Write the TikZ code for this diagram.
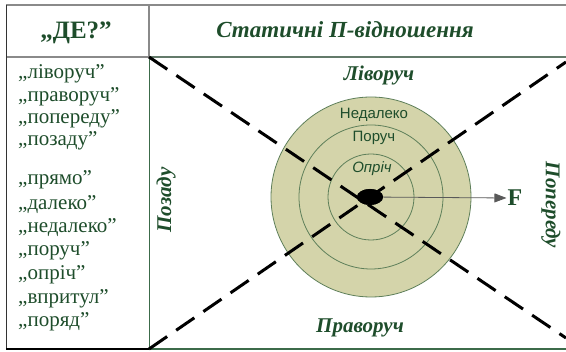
\documentclass[tikz,border=0pt]{standalone}
\usepackage{fontspec}
\setmainfont{Liberation Serif}
\newfontfamily\arialfont{Liberation Sans}
\usepackage{xcolor}
\usetikzlibrary{arrows.meta,shapes.geometric}
\definecolor{txtgreen}{HTML}{1E4D2B}
\definecolor{khaki}{HTML}{D4D4AA}
\definecolor{ringgreen}{HTML}{5E7F5A}
\definecolor{rulegray}{HTML}{8A8A8A}
\definecolor{rulegreen}{HTML}{3C6B4A}
\tikzset{
  hdr/.style={font=\fontsize{24}{26}\selectfont\bfseries,text=txtgreen},
  item/.style={anchor=west,font=\fontsize{21}{23}\selectfont,text=txtgreen,inner sep=0pt},
  side/.style={font=\fontsize{21}{23}\selectfont\bfseries\itshape,text=txtgreen},
  ring/.style={circle,draw=ringgreen,fill=khaki,line width=0.8pt,inner sep=0pt},
  ringlbl/.style={font=\arialfont\fontsize{15}{17}\selectfont,text=txtgreen},
  cut/.style={dash pattern=on 22pt off 11pt,line width=3pt},
  arr/.style={-{Triangle[length=12pt,width=9pt]},draw=gray!70!black,line width=0.8pt},
}

\begin{document}
\begin{tikzpicture}[x=1pt,y=-1pt]
\useasboundingbox (0,0) rectangle (566,352);
% table rules
\draw[rulegray,line width=1.5pt] (6,5) -- (566,5);
\draw[rulegray,line width=1.2pt] (6,57) -- (149,57);
\draw[rulegreen!50!rulegray,line width=1.5pt] (149,57) -- (566,57);
\draw[rulegray,line width=1.2pt] (149,5) -- (149,57);
\draw[rulegreen,line width=1pt] (149,57) -- (149,349);
\draw[black!80,line width=1pt] (6,5) -- (6,349);
\draw[black,line width=1.2pt] (6,349) -- (149,349);
\draw[rulegreen,line width=1.5pt] (149,349) -- (566,349);
% header
\node[hdr,font=\fontsize{25}{27}\selectfont\bfseries] (de) at (76,33) {„ДЕ?”};
\node[hdr,font=\fontsize{23}{25}\selectfont\bfseries\itshape] (title) at (345,30) {Статичні П-відношення};
% list of words
\foreach \y/\w [count=\i] in {74/ліворуч,97/праворуч,119/попереду,141/позаду,180/прямо,205/далеко,228/недалеко,251/поруч,275/опріч,299/впритул,322/поряд}
  \node[item] (it\i) at (18,\y) {„\w”};
% zones
\node[ring,minimum size=200pt] (far) at (371,197) {};
\node[ring,minimum size=144pt] (near) at (371,197) {};
\node[ring,minimum size=86pt] (close) at (371,197) {};
\node[ringlbl] (lfar) at (374,115) {Недалеко};
\node[ringlbl] (lnear) at (374,138) {Поруч};
\node[ringlbl,font=\arialfont\itshape\fontsize{15}{17}\selectfont] (lclose) at (372,169) {Опріч};
\node[side] (left) at (379,75) {Ліворуч};
\node[side] (right) at (360,328) {Праворуч};
\node[side,rotate=90] (back) at (166,200) {Позаду};
\node[side,rotate=-90] (front) at (551,205) {Попереду};
% diagonals
\coordinate (tl) at (149,57);
\coordinate (bl) at (149,349);
\coordinate (tr) at (566,62);
\coordinate (br) at (566,338);
\draw[cut] (tl) -- (br);
\draw[cut] (bl) -- (tr);
% object and force
\node[hdr,inner sep=1pt] (F) at (515,198) {F};
\node[ellipse,fill=black,minimum width=26pt,minimum height=16pt,inner sep=0pt] (obj) at (370,197) {};
\draw[arr] (obj.center) -- (F.west);
\node[ellipse,fill=black,minimum width=26pt,minimum height=16pt,inner sep=0pt] at (obj) {};
\end{tikzpicture}
\end{document}
